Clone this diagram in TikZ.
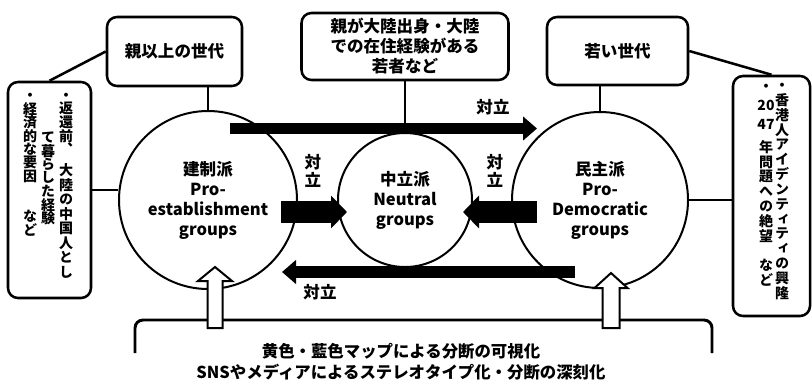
\documentclass[tikz,border=0pt]{standalone}
\usepackage{fontspec}
\setmainfont{Noto Sans CJK JP}
\newfontfamily\jpv{Noto Sans CJK JP}[RawFeature=+vert]
\usetikzlibrary{arrows.meta,calc}
\newdimen\pxu \pxu=0.75pt
\newdimen\vpitch
\newcommand\vchar[1]{\vbox to\vpitch{\vss\hbox to 1.2em{\hss\vphantom{国}#1\hss}\vss}}
\makeatletter
\newcommand\vcol[2]{\vbox{\offinterlineskip\vpitch=#1\relax\vcol@#2\vcol@end}}
\def\vcol@#1{\ifx\vcol@end#1\else\vchar{#1}\expandafter\vcol@\fi}
\def\vcol@end{\vcol@end}
\makeatother
\begin{document}
\begin{tikzpicture}[x=0.75pt,y=-0.75pt,
  font=\bfseries\fontsize{12.4pt}{15pt}\selectfont,
  mybox/.style={draw, line width=1.9pt, rounded corners=7.5pt, align=center, inner sep=0pt},
  mycirc/.style={draw, circle, line width=1.5pt, fill=white, align=center, inner sep=0pt},
  mylink/.style={line width=1.9pt},
  mybar/.style={line width=8.5pt, -{Triangle[length=10.5pt,width=17.5pt]}},
  myfat/.style={line width=16pt, -{Triangle[length=12pt,width=24pt]}},
  myhollow/.style={draw, line width=1.5pt, fill=white, line join=miter},
  mylab/.style={inner sep=0pt, align=center},
  myvlab/.style={inner sep=0pt, align=center, font=\bfseries\fontsize{12.4pt}{13.5pt}\selectfont},
  myvt/.style={inner sep=0pt, anchor=north, font=\jpv\bfseries\fontsize{10.5pt}{10.5pt}\selectfont}
]
\useasboundingbox (0,0) rectangle (812,383);

% circles
\node[mycirc, minimum size=133.5pt] (L) at (208,200) {建制派\\Pro-\\establishment\\groups};
\node[mycirc, minimum size=100.5pt] (M) at (405,200) {中立派\\Neutral\\groups};
\node[mycirc, minimum size=132pt] (R) at (600,200) {民主派\\Pro-\\Democratic\\groups};

% boxes
\node[mybox, minimum width=101.25pt, minimum height=51.75pt] (tl) at (174.5,51.5) {親以上の世代};
\node[mybox, minimum width=155.25pt, minimum height=50.25pt] (tm) at (405,46.5) {親が大陸出身・大陸\\での在住経験がある\\若者など};
\node[mybox, minimum width=105.75pt, minimum height=51pt] (tr) at (617.5,51) {若い世代};
\node[mybox, minimum width=62.25pt, minimum height=162pt] (lv) at (49.5,190) {};
\node[mybox, minimum width=57.75pt, minimum height=180pt] (rv) at (771.5,196) {};

% vertical texts
\node[myvt] (l1a) at (66,88.25) {\vcol{13.5\pxu}{・返還前、}};
\node[myvt] (l1b) at (66,162.7) {\vcol{14.6\pxu}{大陸の中国人とし}};
\node[myvt] (l2) at (48,130.25) {\vcol{13.5\pxu}{て暮らした経験}};
\node[myvt] (l3) at (30,88.25) {\vcol{13.5\pxu}{・経済的な要因　　など}};
\node[myvt] (r1) at (782,77.6) {\vcol{14.85\pxu}{・香港人アイデンティティの興隆}};
\node[myvt] (r2a) at (766,76.5) {\vcol{19\pxu}{・{20}{47}}};
\node[myvt] (r2b) at (766,139.6) {\vcol{14.8\pxu}{年問題への絶望　など}};

% links
\draw[mylink] (tl.west) -- (lv.north);
\draw[mylink] (L.north |- tl.south) -- (L.north);
\draw[mylink] (lv.east) -- (lv.east -| L.west);
\draw[mylink] (tm.south) -- (M.north);
\draw[mylink] (R.north |- tr.south) -- (R.north);
\draw[mylink] (tr.east) -- (rv.north);
\draw[mylink] (R.east) -- (R.east -| rv.west);

% conflict bars
\coordinate (t1) at (230,128.5); \coordinate (t2) at (537,128.5);
\draw[mybar] (t1) -- (t2);
\coordinate (b1) at (575,272); \coordinate (b2) at (282,272);
\draw[mybar] (b1) -- (b2);
\coordinate (f1) at (281,212); \coordinate (f2) at (347,212);
\draw[myfat] (f1) -- (f2);
\coordinate (g1) at (537,212); \coordinate (g2) at (463,212);
\draw[myfat] (g1) -- (g2);

% labels
\node[mylab] (c1) at (493,107) {対立};
\node[mylab] (c2) at (320,292) {対立};
\node[myvlab] (c3) at (313,171) {対\\立};
\node[myvlab] (c4) at (495,171) {対\\立};

% bracket
\coordinate (k1) at (135,353); \coordinate (k2) at (712,353);
\draw[line width=2.2pt, rounded corners=6pt] (k1) -- (135,320) -- (712,320) -- (k2);

% hollow arrows
\coordinate (ha) at (215,328); \coordinate (hb) at (611,328);
\draw[myhollow] ($(ha)+(-7.5,0)$) -- ($(ha)+(-7.5,-47)$) -- ($(ha)+(-17,-47)$) -- ($(ha)+(0,-61)$) -- ($(ha)+(17,-47)$) -- ($(ha)+(7.5,-47)$) -- ($(ha)+(7.5,0)$) -- cycle;
\draw[myhollow] ($(hb)+(-8.5,0)$) -- ($(hb)+(-8.5,-40)$) -- ($(hb)+(-16.5,-40)$) -- ($(hb)+(0,-55)$) -- ($(hb)+(16.5,-40)$) -- ($(hb)+(8.5,-40)$) -- ($(hb)+(8.5,0)$) -- cycle;

% bottom text
\node[mylab, font=\bfseries\fontsize{12.3pt}{15.75pt}\selectfont] (bt) at (401,362) {黄色・藍色マップによる分断の可視化\\SNSやメディアによるステレオタイプ化・分断の深刻化};
\end{tikzpicture}
\end{document}
